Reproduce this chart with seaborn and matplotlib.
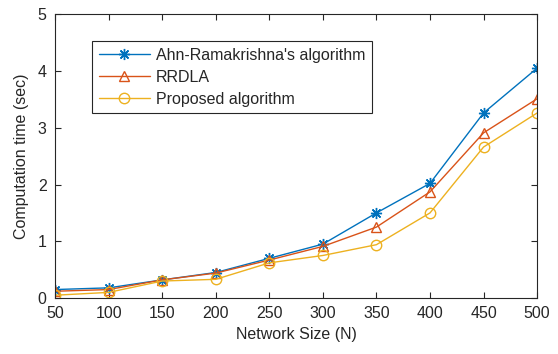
import pandas as pd
import seaborn as sns
import matplotlib.pyplot as plt

network_size = [50, 100, 150, 200, 250, 300, 350, 400, 450, 500]
ahn_time = [0.15, 0.18, 0.32, 0.45, 0.70, 0.95, 1.50, 2.02, 3.26, 4.05]
rrdla_time = [0.12, 0.15, 0.32, 0.44, 0.67, 0.91, 1.25, 1.87, 2.91, 3.51]
proposed_time = [0.05, 0.10, 0.30, 0.33, 0.62, 0.75, 0.94, 1.50, 2.66, 3.26]
series_names = ["Ahn-Ramakrishna's algorithm", "RRDLA", "Proposed algorithm"]

sns.set_style("ticks")
plt.rcParams['font.family'] = ['Liberation Sans', 'DejaVu Sans']
plt.rcParams['font.size'] = 11.5

fig = plt.figure(figsize=(5.58, 3.54), dpi=100)
ax = fig.add_axes([0.0986, 0.158, 0.864, 0.802])

styles = [('#0072BD', (8, 2, 0), 8), ('#D95319', '^', 7.5), ('#EDB120', 'o', 7.5)]
for name, vals, (c, m, ms) in zip(series_names, [ahn_time, rrdla_time, proposed_time], styles):
    df = pd.DataFrame({'N': network_size, 't': vals})
    sns.lineplot(x='N', y='t', data=df, ax=ax, color=c, marker=m, markersize=ms,
                 mfc='none', mec=c, mew=1.0, lw=1.0, label=name)

ax.set_xlim(50, 500)
ax.set_ylim(0, 5)
ax.set_xticks(network_size)
ax.set_yticks([0, 1, 2, 3, 4, 5])
ax.set_xlabel('Network Size (N)', labelpad=4)
ax.set_ylabel('Computation time (sec)', labelpad=6)
ax.tick_params(direction='in', top=True, right=True, length=4, color='#262626', labelcolor='#262626')
ax.tick_params(axis='x', pad=6)
ax.tick_params(axis='y', pad=6)
for s in ax.spines.values():
    s.set_color('#262626')
    s.set_linewidth(0.8)

leg = ax.legend(loc='upper left', bbox_to_anchor=(0.077, 0.905), fancybox=False,
                edgecolor='#262626', framealpha=1, borderaxespad=0, handlelength=3.2,
                labelspacing=0.45, borderpad=0.4, handletextpad=0.4)
leg.get_frame().set_linewidth(0.8)

plt.savefig('out.png', dpi=100)
